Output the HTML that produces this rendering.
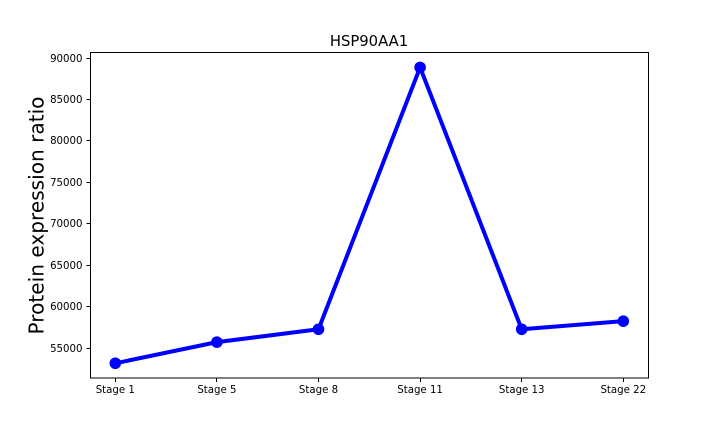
<!DOCTYPE html>
<html lang="en">
<head>
<meta charset="utf-8">
<title>HSP90AA1</title>
<style>
  html, body { margin: 0; padding: 0; background: #fff; width: 720px; height: 432px; overflow: hidden; }
  svg { display: block; font-family: "DejaVu Sans", "Liberation Sans", sans-serif; }
  text { fill: #000; }
</style>
</head>
<body>
<svg id="chart" xmlns="http://www.w3.org/2000/svg" width="720" height="432" viewBox="0 0 720 432">
  <rect x="0" y="0" width="720" height="432" fill="#fff"></rect>
  <g id="ticks"></g>
  <g id="series"></g>
  <rect x="90.5" y="52.5" width="558" height="325.5" fill="none" stroke="#000" stroke-width="1"></rect>
  <text x="369" y="46" font-size="14.8" text-anchor="middle">HSP90AA1</text>
  <text transform="translate(43.5 215.5) rotate(-90)" font-size="20.1" text-anchor="middle">Protein expression ratio</text>
</svg>
<script>
const categories = ['Stage 1', 'Stage 5', 'Stage 8', 'Stage 11', 'Stage 13', 'Stage 22'];
const seriesValues = [53230, 55780, 57330, 88920, 57330, 58310];
const yTicks = [55000, 60000, 65000, 70000, 75000, 80000, 85000, 90000];

const SVG_NS = 'http://www.w3.org/2000/svg';
const xAt = (i) => 115.3 + (623.3 - 115.3) * i / (categories.length - 1);
const yAt = (v) => 58.45 + (90000 - v) * (41.45 / 5000);
const tickLayer = document.getElementById('ticks');
const seriesLayer = document.getElementById('series');

function make(tag, attrs, parent) {
  const el = document.createElementNS(SVG_NS, tag);
  for (const k in attrs) el.setAttribute(k, attrs[k]);
  parent.appendChild(el);
  return el;
}

yTicks.forEach((v) => {
  const y = Math.floor(yAt(v) - 0.4) + 0.5;
  const mark = make('line', { x1: 86.5, x2: 90.5, y1: y, y2: y, stroke: '#000', 'stroke-width': 1 }, tickLayer);
  
  
  const label = make('text', { x: 82.5, y: y + 3.7, 'font-size': 10.2, 'text-anchor': 'end' }, tickLayer);
  label.textContent = String(v);
  
  
});

categories.forEach((c, i) => {
  const x = Math.floor(xAt(i)) + 0.5;
  const mark = make('line', { x1: x, x2: x, y1: 378, y2: 382, stroke: '#000', 'stroke-width': 1 }, tickLayer);
  
  
  const label = make('text', { x: xAt(i), y: 393, 'font-size': 10.2, 'text-anchor': 'middle' }, tickLayer);
  label.textContent = c;
  
  
});

const line = make('polyline', {
  points: seriesValues.map((v, i) => xAt(i) + ',' + yAt(v)).join(' '),
  fill: 'none',
  stroke: '#0000ff',
  'stroke-width': 4,
  'stroke-linejoin': 'round'
}, seriesLayer);



seriesValues.forEach((v, i) => {
  const point = make('circle', { cx: xAt(i), cy: yAt(v), r: 5.8, fill: '#0000ff' }, seriesLayer);
  
  
});
</script>
</body>
</html>
